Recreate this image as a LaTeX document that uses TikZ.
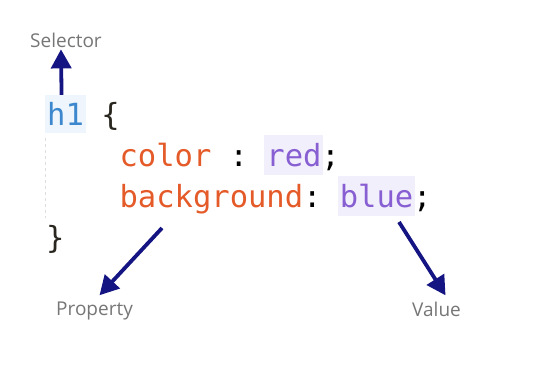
\documentclass[tikz,border=0pt]{standalone}
\usepackage{fontspec}
\setmonofont{DejaVu Sans Mono}
\setsansfont{Open Sans}
\usepackage{tikz}
\usetikzlibrary{arrows.meta,positioning}

\definecolor{selblue}{RGB}{60,135,205}
\definecolor{proporange}{RGB}{228,90,40}
\definecolor{valpurple}{RGB}{135,95,210}
\definecolor{hlpurple}{RGB}{241,239,252}
\definecolor{hlblue}{RGB}{238,245,252}
\definecolor{navy}{RGB}{20,20,130}
\definecolor{labelgray}{RGB}{118,118,118}
\definecolor{guidegray}{RGB}{222,222,222}
\definecolor{bracedark}{RGB}{40,38,30}

\begin{document}
\begin{tikzpicture}[
	x = 1pt, y = -1pt,
	declare function = {
		cx(\n) = 46 + \n*18.35;
	},
	code/.style = {font=\fontsize{30.5}{36}\selectfont\ttfamily, inner sep=0pt, anchor=base west},
	hl/.style = {fill=#1, text height=31pt, text depth=9pt, inner xsep=2pt},
	pointer/.style = {draw=navy, line width=3.8pt, -{Triangle[length=19pt,width=20pt]}},
	lbl/.style = {font=\fontsize{19}{22}\selectfont\sffamily, text=labelgray, inner sep=2pt, anchor=base west},
	]
	\useasboundingbox (0,0) rectangle (551,372);

	% code
	\node[code, hl=hlblue, text height=30pt, text depth=8pt, text=selblue] (h1) at ({cx(0)-1},125) {h1};
	\node[code, text=bracedark] (open) at ({cx(3)},125) {\{};

	\node[code, text=proporange] (color) at ({cx(4)},166) {color};
	\node[code] (colon1) at ({cx(10)},166) {:};
	\node[code, hl=hlpurple, text=valpurple] (red) at ({cx(12)-2},166) {red};
	\node[code] (semi1) at ({cx(15)},166) {;};

	\node[code, text=proporange] (background) at ({cx(4)},207) {background};
	\node[code] (colon2) at ({cx(14)},207) {:};
	\node[code, hl=hlpurple, text=valpurple] (blue) at ({cx(16)-2},207) {blue};
	\node[code] (semi2) at ({cx(20)},207) {;};

	\node[code, text=bracedark] (close) at ({cx(0)},248) {\}};

	\draw[guidegray, dashed, line width=0.8pt] (45,138) -- (45,218);

	% labels
	\node[lbl] (selector) at (28,47) {Selector};
	\node[lbl] (property) at (54,315) {Property};
	\node[lbl] (value) at (410,316) {Value};

	\coordinate (propTail) at (162,228);
	\coordinate (valTail) at (399,222);

	\draw[pointer] ([xshift=-4pt]h1.north) -- ([xshift=-5pt]selector.south);
	\draw[pointer] (propTail) -- ([xshift=5pt,yshift=4pt]property.north);
	\draw[pointer] (valTail) -- ([xshift=9pt,yshift=4pt]value.north);

\end{tikzpicture}
\end{document}
